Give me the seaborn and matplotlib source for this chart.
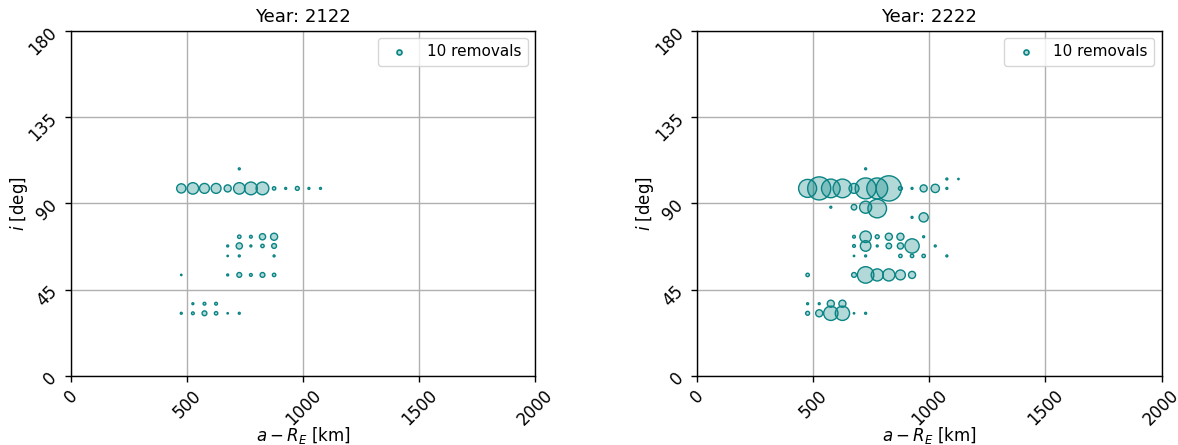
import matplotlib
matplotlib.use("Agg")
import matplotlib.pyplot as plt
import numpy as np
import pandas as pd
import seaborn as sns

# Removals binned by altitude (a - R_E, km) and inclination (deg)
years = ["2122", "2222"]

alt_2122 = [475, 525, 575, 625, 675, 725, 775, 825, 875, 925, 975, 1025, 1075,
            725,
            725, 775, 825, 875,
            675, 725, 775, 825, 875,
            675, 725, 875,
            475, 675, 725, 775, 825, 875,
            525, 575, 625,
            475, 525, 575, 625, 675, 725]
inc_2122 = [97.8] * 13 + [108.0] + [72.6] * 4 + [67.8] * 5 + [62.6] * 3 + \
           [52.7] * 6 + [37.7] * 3 + [32.7] * 6
n_2122 = [44, 68, 51, 51, 26, 68, 84, 84, 6, 2, 8, 2, 2,
          2,
          6, 4, 20, 26,
          2, 20, 2, 6, 12,
          1, 2, 2,
          1, 2, 12, 4, 12, 6,
          2, 4, 4,
          2, 4, 12, 6, 1, 2]

alt_2222 = [725,
            1075, 1125,
            475, 525, 575, 625, 675, 725, 775, 825, 875, 925, 975, 1025, 1075,
            575, 675, 725, 775,
            925, 975,
            675, 725, 775, 825, 875, 975,
            675, 725, 775, 825, 875, 925, 1025,
            675, 725, 875, 925, 975, 1075,
            475, 675, 725, 775, 825, 875, 925,
            475, 525, 575, 625,
            475, 525, 575, 625, 675, 725]
inc_2222 = [108.0] + [102.7] * 2 + [97.8] * 13 + [88.0, 88.0, 88.0, 87.3] + \
           [82.7] * 2 + [72.6] * 6 + [67.8] * 7 + [62.6] * 6 + [52.7] * 7 + \
           [37.7] * 4 + [32.7] * 6
n_2222 = [2,
          2, 1,
          168, 276, 180, 180, 51, 226, 226, 330, 8, 2, 26, 36, 2,
          2, 16, 76, 180,
          2, 44,
          4, 68, 8, 26, 26, 2,
          4, 58, 2, 16, 20, 106, 2,
          1, 2, 6, 6, 6, 2,
          6, 12, 141, 76, 76, 51, 26,
          2, 2, 26, 26,
          8, 26, 106, 106, 1, 2]

x_ticks = [0, 500, 1000, 1500, 2000]
y_ticks = [0, 45, 90, 135, 180]
legend_count = 10

sns.set_theme(style="ticks", rc={"text.color": "black",
                                 "axes.labelcolor": "black",
                                 "xtick.color": "black",
                                 "ytick.color": "black"})
plt.rcParams["font.family"] = ["DejaVu Sans"]

edge = "#0a8484"
face = (0.0, 0.5, 0.5, 0.3)

fig = plt.figure(figsize=(11.78, 4.45), dpi=100)
axes = [fig.add_axes([0.0603, 0.155, 0.394, 0.776]),
        fig.add_axes([0.592, 0.155, 0.394, 0.776])]

panels = [(alt_2122, inc_2122, n_2122), (alt_2222, inc_2222, n_2222)]

for ax, year, (alt, inc, n) in zip(axes, years, panels):
    df = pd.DataFrame({"a": alt, "i": inc, "n": n})
    sns.scatterplot(data=df, x="a", y="i", size="n",
                    sizes=(1, 400), size_norm=(1, 400), legend=False,
                    facecolor=face, edgecolor=edge, linewidth=1.0,
                    ax=ax, zorder=3)
    ax.scatter([], [], s=legend_count * 1.3, facecolor=face, edgecolor=edge,
               linewidth=1.2, label=f"{legend_count} removals")
    ax.set_xlim(0, 2000)
    ax.set_ylim(0, 180)
    ax.set_xticks(x_ticks)
    ax.set_yticks(y_ticks)
    ax.tick_params(axis="both", labelsize=12, rotation=45, length=4,
                   color="black", width=1)
    ax.grid(True, color="#b0b0b0", linewidth=1)
    ax.set_axisbelow(True)
    for sp in ax.spines.values():
        sp.set_color("black")
        sp.set_linewidth(1)
    ax.set_xlabel(r"$a - R_E$ [km]", fontsize=12, labelpad=-3)
    ax.set_ylabel(r"$i$ [deg]", fontsize=12, labelpad=-3)
    ax.set_title(f"Year: {year}", fontsize=13)
    ax.legend(loc="upper right", fontsize=11, frameon=True)

fig.savefig("out.png", dpi=100)
